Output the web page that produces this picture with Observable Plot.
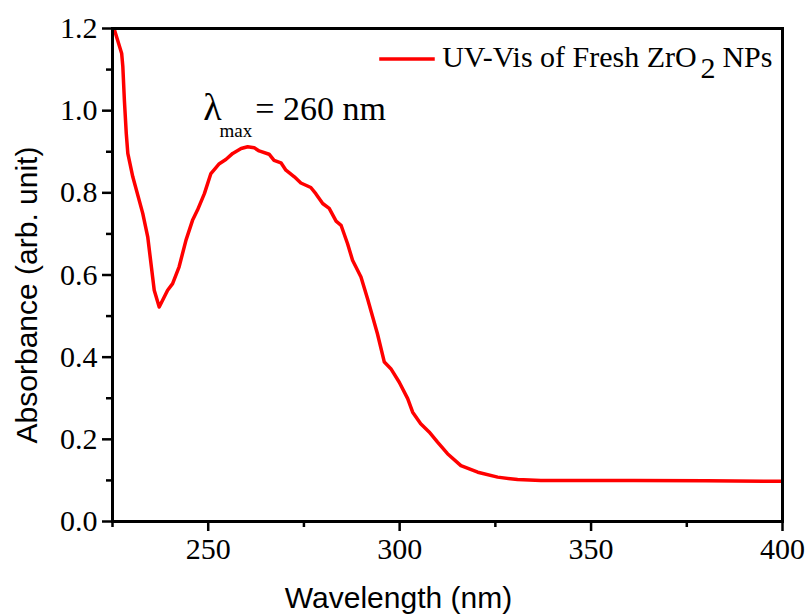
<!DOCTYPE html>
<html>
<head>
<meta charset="utf-8">
<script src="https://cdn.jsdelivr.net/npm/d3@7"></script>
<script src="https://cdn.jsdelivr.net/npm/@observablehq/plot@0.6"></script>
<style>
  html, body { margin: 0; padding: 0; background: #fff; }
</style>
</head>
<body>
<div id="chart"></div>
<script>
// Wavelength (nm) and absorbance (arb. unit)
const wavelength = [225.4, 227.4, 227.7, 228.1, 228.6, 229.0, 230.3, 232.9, 234.2, 235.9, 237.2,
  239.4, 240.7, 242.4, 244.2, 245.9, 247.2, 249.0, 250.7, 252.9, 254.6, 256.4, 258.6, 260.3,
  262.0, 263.3, 265.9, 267.2, 269.0, 270.3, 272.5, 274.2, 276.8, 278.1, 279.9, 281.6, 283.4,
  284.7, 286.4, 287.7, 289.9, 291.6, 294.2, 296.0, 297.7, 299.9, 302.1, 303.4, 305.5, 307.7,
  309.9, 312.5, 316.0, 320.4, 325.6, 330.8, 336.9, 350.0, 361.2, 380.0, 400.0];
const absorbance = [1.200, 1.139, 1.107, 1.026, 0.944, 0.896, 0.839, 0.750, 0.693, 0.563, 0.522,
  0.563, 0.579, 0.620, 0.685, 0.733, 0.758, 0.798, 0.847, 0.871, 0.881, 0.896, 0.908, 0.912,
  0.910, 0.902, 0.894, 0.879, 0.873, 0.855, 0.839, 0.824, 0.813, 0.798, 0.774, 0.762, 0.731,
  0.721, 0.676, 0.636, 0.595, 0.543, 0.457, 0.388, 0.372, 0.339, 0.299, 0.266, 0.238, 0.218,
  0.193, 0.165, 0.136, 0.120, 0.108, 0.102, 0.100, 0.100, 0.100, 0.099, 0.098];

const xTicks = [250, 300, 350, 400];
const xMinorTicks = [225, 275, 325, 375];
const yTicks = [0, 0.2, 0.4, 0.6, 0.8, 1.0, 1.2];
const yMinorTicks = [0.1, 0.3, 0.5, 0.7, 0.9, 1.1];

const seriesName = "UV-Vis of Fresh ZrO";
const seriesSub = "2";
const seriesTail = "NPs";
const xTitle = "Wavelength (nm)";
const yTitle = "Absorbance (arb. unit)";

const data = wavelength.map((w, i) => ({wl: w, abs: absorbance[i]}));

const serif = "Liberation Serif, Times New Roman, serif";
const sans = "Liberation Sans, Arial, sans-serif";
const red = "#ff0000";

const chart = Plot.plot({
  width: 809,
  height: 614,
  marginLeft: 112,
  marginRight: 27,
  marginTop: 28,
  marginBottom: 93,
  x: {domain: [225, 400], label: null},
  y: {domain: [0, 1.2], label: null},
  style: {fontFamily: serif, fontSize: "30px", color: "black", background: "white"},
  marks: [
    Plot.line(data, {x: "wl", y: "abs", stroke: red, strokeWidth: 3.5, clip: true}),
    Plot.frame({stroke: "black", strokeWidth: 3}),
    Plot.axisX(xTicks, {tickSize: 10, tickPadding: 6, strokeWidth: 2.5, fontSize: 30, fontFamily: serif, label: null}),
    Plot.axisX(xMinorTicks, {tickSize: 6, tickFormat: () => "", strokeWidth: 2.5, label: null}),
    Plot.axisY(yTicks, {tickSize: 10, tickPadding: 5, strokeWidth: 2.5, fontSize: 30, fontFamily: serif,
      tickFormat: d3.format(".1f"), label: null}),
    Plot.axisY(yMinorTicks, {tickSize: 6, tickFormat: () => "", strokeWidth: 2.5, label: null}),
    // axis titles
    Plot.text([xTitle], {frameAnchor: "bottom", text: d => d, dx: -49, dy: 86, lineAnchor: "bottom",
      textAnchor: "middle", fontFamily: sans, fontSize: 30, fill: "black"}),
    Plot.text([yTitle], {frameAnchor: "left", text: d => d, dx: -85, dy: 20, rotate: -90,
      textAnchor: "middle", lineAnchor: "middle", fontFamily: sans, fontSize: 30, fill: "black"}),
    // annotation lambda_max = 260 nm
    Plot.text(["λ"], {x: [248.7], y: [0.978], text: d => d, textAnchor: "start", lineAnchor: "bottom",
      fontFamily: serif, fontSize: 38, fill: "black"}),
    Plot.text(["max"], {x: [252.95], y: [0.935], text: d => d, textAnchor: "start", lineAnchor: "bottom",
      fontFamily: serif, fontSize: 19, fill: "black"}),
    Plot.text(["= 260 nm"], {x: [262.3], y: [0.978], text: d => d, textAnchor: "start", lineAnchor: "bottom",
      fontFamily: serif, fontSize: 34, fill: "black"}),
    // legend
    Plot.ruleY([1.126], {x1: 294.8, x2: 309.3, stroke: red, strokeWidth: 3.5}),
    Plot.text([seriesName], {x: [311.1], y: [1.1058], text: d => d, textAnchor: "start", lineAnchor: "bottom",
      fontFamily: serif, fontSize: 30, fill: "black"}),
    Plot.text([seriesSub], {x: [378.6], y: [1.0784], text: d => d, textAnchor: "start", lineAnchor: "bottom",
      fontFamily: serif, fontSize: 30, fill: "black"}),
    Plot.text([seriesTail], {x: [384.3], y: [1.1058], text: d => d, textAnchor: "start", lineAnchor: "bottom",
      fontFamily: serif, fontSize: 30, fill: "black"})
  ]
});

document.getElementById("chart").appendChild(chart);
</script>
</body>
</html>
